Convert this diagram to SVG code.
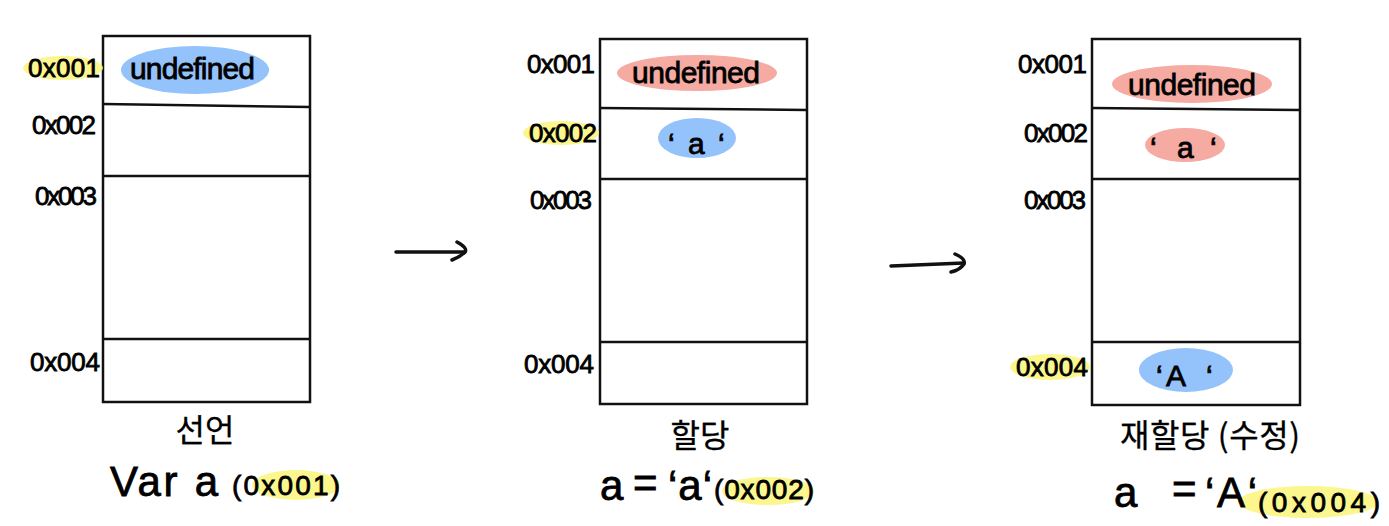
<svg xmlns="http://www.w3.org/2000/svg" width="1389" height="526" viewBox="0 0 1389 526">
<style>
.box{fill:none;stroke:#111;stroke-width:2.5}
.ln{stroke:#111;stroke-width:2.5;fill:none}
text{fill:#000;stroke:#000;stroke-width:0.8}
.addr{font-family:"Liberation Sans","Noto Sans",sans-serif;font-size:26px}
.val{font-family:"Liberation Sans","Noto Sans",sans-serif;font-size:30px}
.cap{font-family:"Noto Sans CJK KR","Liberation Sans",sans-serif;font-size:32px;stroke-width:0.3}
.code{font-family:"Liberation Sans","Noto Sans CJK KR",sans-serif;font-size:42px}
.codes{font-family:"Liberation Sans","Noto Sans CJK KR",sans-serif;font-size:28px}
.hl{fill:#fbf682;opacity:0.9}
.blue{fill:#94c2fb}
.red{fill:#f5aaa2}
.arrow{stroke:#111;stroke-width:3.5;fill:none;stroke-linecap:round;stroke-linejoin:round}
</style>

<g id="table-declare">
  <rect class="box" x="103" y="36" width="207" height="366"/>
  <line class="ln" x1="103" y1="104" x2="310" y2="107"/>
  <line class="ln" x1="103" y1="176" x2="310" y2="176"/>
  <line class="ln" x1="103" y1="339" x2="310" y2="339"/>
  <ellipse class="hl" cx="63" cy="68" rx="40" ry="12"/>
  <text class="addr" x="28" y="77" textLength="72">0x001</text>
  <text class="addr" x="32" y="134" textLength="64">0x002</text>
  <text class="addr" x="35" y="205" textLength="62">0x003</text>
  <text class="addr" x="30" y="371" textLength="70">0x004</text>
  <ellipse class="blue" cx="195" cy="70" rx="74" ry="24"/>
  <text class="val" x="130" y="79" textLength="125">undefined</text>
  <text class="cap" x="205" y="442" text-anchor="middle">선언</text>
  <ellipse class="hl" cx="296" cy="485" rx="44" ry="15"/>
  <text class="code" x="110" y="496" textLength="108">Var a</text>
  <text class="codes" x="232" y="495" textLength="108">(0x001)</text>
</g>

<g id="table-assign">
  <rect class="box" x="600" y="39" width="207" height="365"/>
  <line class="ln" x1="600" y1="108" x2="807" y2="110"/>
  <line class="ln" x1="600" y1="179" x2="807" y2="179"/>
  <line class="ln" x1="600" y1="342" x2="807" y2="342"/>
  <text class="addr" x="527" y="73" textLength="68">0x001</text>
  <ellipse class="hl" cx="561" cy="133" rx="38" ry="12"/>
  <text class="addr" x="529" y="142" textLength="68">0x002</text>
  <text class="addr" x="530" y="209" textLength="62">0x003</text>
  <text class="addr" x="524" y="373" textLength="70">0x004</text>
  <ellipse class="red" cx="697" cy="73" rx="80" ry="18"/>
  <text class="val" x="632" y="83" textLength="128">undefined</text>
  <ellipse class="blue" cx="697" cy="138" rx="39" ry="20"/>
  <text class="val" x="668" y="154">‘</text>
  <text class="val" x="688" y="154">a</text>
  <text class="val" x="718" y="154">‘</text>
  <text class="cap" x="700" y="447" text-anchor="middle">할당</text>
  <ellipse class="hl" cx="768" cy="491" rx="46" ry="14"/>
  <text class="code" x="600" y="500">a</text>
  <text class="code" x="633" y="497" font-size="34">=</text>
  <text class="code" x="668" y="500" textLength="44">‘a‘</text>
  <text class="codes" x="714" y="499" textLength="100">(0x002)</text>
</g>

<g id="table-reassign">
  <rect class="box" x="1092" y="39" width="208" height="366"/>
  <line class="ln" x1="1092" y1="108" x2="1300" y2="110"/>
  <line class="ln" x1="1092" y1="179" x2="1300" y2="179"/>
  <line class="ln" x1="1092" y1="342" x2="1300" y2="342"/>
  <text class="addr" x="1018" y="73" textLength="69">0x001</text>
  <text class="addr" x="1024" y="142" textLength="64">0x002</text>
  <text class="addr" x="1024" y="209" textLength="62">0x003</text>
  <ellipse class="hl" cx="1050" cy="367" rx="40" ry="13"/>
  <text class="addr" x="1016" y="376" textLength="72">0x004</text>
  <ellipse class="red" cx="1192" cy="84" rx="80" ry="19"/>
  <text class="val" x="1128" y="95" textLength="128">undefined</text>
  <ellipse class="red" cx="1185" cy="145" rx="40" ry="17"/>
  <text class="val" x="1150" y="158">‘</text>
  <text class="val" x="1177" y="158">a</text>
  <text class="val" x="1210" y="158">‘</text>
  <ellipse class="blue" cx="1186" cy="370" rx="47" ry="22"/>
  <text class="val" x="1156" y="386" font-size="32">‘</text>
  <text class="val" x="1166" y="386" font-size="34">A</text>
  <text class="val" x="1206" y="386" font-size="32">‘</text>
  <text class="cap" x="1210" y="447" text-anchor="middle" textLength="180">재할당 (수정)</text>
  <ellipse class="hl" cx="1308" cy="502" rx="70" ry="16"/>
  <text class="code" x="1114" y="507" font-size="50">a</text>
  <text class="code" x="1172" y="503" font-size="36">=</text>
  <text class="code" x="1205" y="507" font-size="48" textLength="52">‘A‘</text>
  <text class="codes" x="1258" y="512" font-size="36" textLength="122">(0x004)</text>
</g>

<g id="connectors">
  <path class="arrow" d="M396 252 L465 252"/>
  <path class="arrow" d="M457 242 Q468 248 465 252 Q460 257 452 260"/>
  <path class="arrow" d="M891 266 L964 263"/>
  <path class="arrow" d="M955 254 Q966 259 964 264 Q960 270 951 272"/>
</g>
</svg>
